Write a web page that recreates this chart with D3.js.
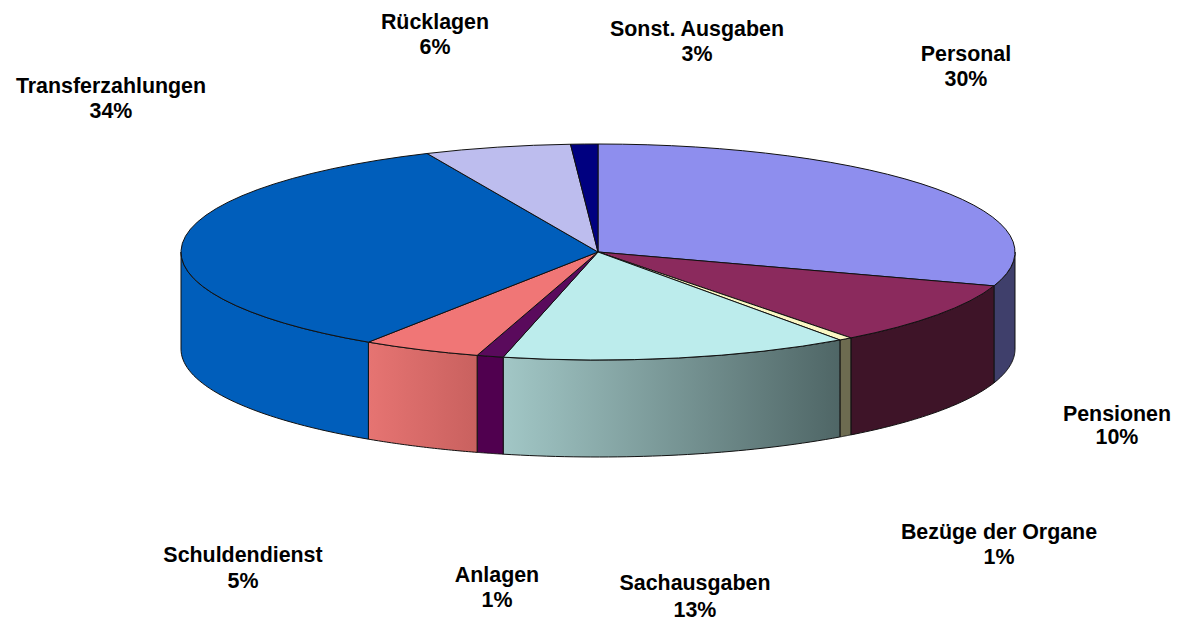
<!DOCTYPE html>
<meta charset="utf-8">
<script src="https://d3js.org/d3.v7.min.js"></script>
<body style="margin:0;background:#fff">
    <div id="pie3d"></div>
    <script>
        const categories=["Personal","Pensionen","Bezüge der Organe","Sachausgaben","Anlagen","Schuldendienst","Transferzahlungen","Rücklagen","Sonst. Ausgaben"];
        // slice sizes as drawn, the printed percentages do not quite match them
        const sliceValues=[30.08,9.55,0.52,13.5,1.03,4.6,34,5.67,1.05];
        const percentLabels=["30%","10%","1%","13%","1%","5%","34%","6%","3%"];
        const topColors=["#8e8eee","#8b2a5d","#fbf7c4","#bcecec","#5a0a5c","#f07676","#005ebb","#bdbdee","#000080"];
        const sideFrom=["#3f3f6b","#3e1428","#6d6b50","#a2c7c6","#50004f","#e67472","#005ebb","#5f5f77","#000040"];
        const sideTo=["#3f3f6b","#3e1428","#6d6b50","#4f6666","#50004f","#c9615f","#005ebb","#5f5f77","#000040"];
        const labelX=[966,1117,999,695,497,243,111,435,697];
        const labelY=[61,421,539,590,582,562,93,29,36];
        const percentY=[86,444,564,617,607,588,118,54,61];

        const width=1180,height=622,
            cx=598,cy=252,rx=417,ry=108,depth=97;

        const svg=d3.select("#pie3d")
            .append("svg")
                .attr("width",width)
                .attr("height",height)
                .style("display","block");

        const slices=d3.pie().sort(null)(sliceValues);
        const px=a=>cx+rx*Math.sin(a),
            py=a=>cy-ry*Math.cos(a);
        const line=d3.line();

        // only the front half of the rim can be seen
        const front=slices.map((d,i)=>({
            i,
            a0:Math.max(d.startAngle,Math.PI/2),
            a1:Math.min(d.endAngle,Math.PI*1.5)
        })).filter(d=>d.a1>d.a0);

        const defs=svg.append("defs");
        front.forEach(d=>{
            const g=defs.append("linearGradient")
                .attr("id",`side${d.i}`)
                .attr("gradientUnits","userSpaceOnUse")
                .attr("x1",Math.min(px(d.a0),px(d.a1)))
                .attr("x2",Math.max(px(d.a0),px(d.a1)))
                .attr("y1",0).attr("y2",0);
            g.append("stop").attr("offset",0).attr("stop-color",sideFrom[d.i]);
            g.append("stop").attr("offset",1).attr("stop-color",sideTo[d.i]);
        });

        svg.append("g").selectAll("path")
            .data(front)
            .join("path")
                .attr("d",d=>{
                    const steps=d3.range(0,41).map(k=>d.a0+(d.a1-d.a0)*k/40);
                    const upper=steps.map(a=>[px(a),py(a)]);
                    const lower=steps.slice().reverse().map(a=>[px(a),py(a)+depth]);
                    return line(upper.concat(lower))+"Z";
                })
                .attr("fill",d=>`url(#side${d.i})`)
                .attr("stroke","#111")
                .attr("stroke-width",1)
                .attr("stroke-linejoin","round");

        const arc=d3.arc().innerRadius(0).outerRadius(rx);
        svg.append("g")
            .attr("transform",`translate(${cx},${cy}) scale(1,${ry/rx})`)
            .selectAll("path")
            .data(slices)
            .join("path")
                .attr("d",arc)
                .attr("fill",(d,i)=>topColors[i])
                .attr("stroke","#111")
                .attr("stroke-width",1)
                .attr("vector-effect","non-scaling-stroke");

        const labels=svg.append("g")
            .attr("font-family","'Liberation Sans',Arial,sans-serif")
            .attr("font-weight","bold")
            .attr("font-size",21.4)
            .attr("fill","#000")
            .attr("text-anchor","middle")
            .selectAll("text")
            .data(categories)
            .join("text");
        labels.append("tspan")
            .attr("x",(d,i)=>labelX[i])
            .attr("y",(d,i)=>labelY[i])
            .text(d=>d);
        labels.append("tspan")
            .attr("x",(d,i)=>labelX[i])
            .attr("y",(d,i)=>percentY[i])
            .text((d,i)=>percentLabels[i]);
    </script>
</body>
